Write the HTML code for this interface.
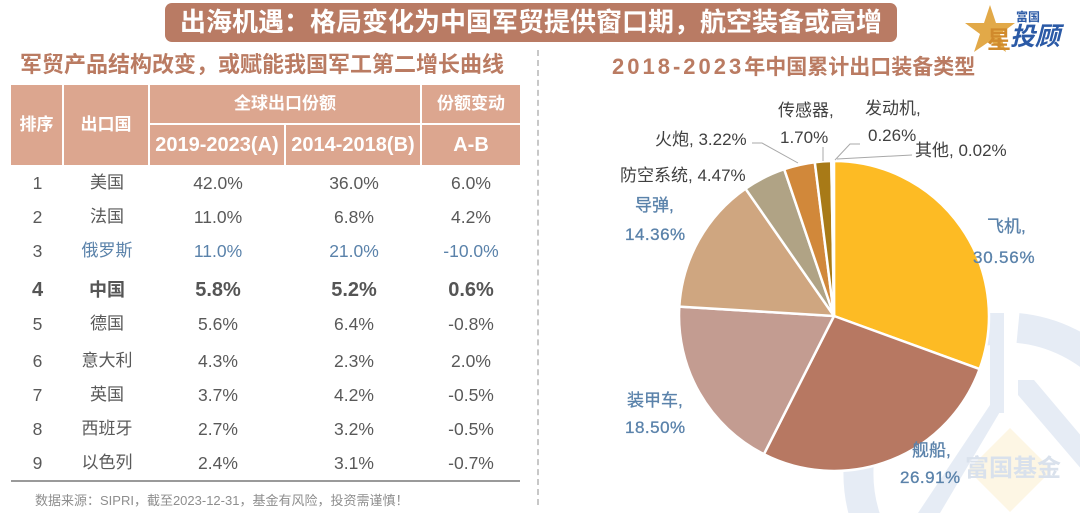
<!DOCTYPE html>
<html><head><meta charset="utf-8">
<style>
*{margin:0;padding:0;box-sizing:border-box}
body{width:1080px;height:513px;background:#fff;position:relative;overflow:hidden;font-family:"Liberation Sans","Noto Sans CJK SC",sans-serif;color:#595959}
.abs{position:absolute}
.banner{left:165px;top:3px;width:732px;height:39px;background:#B97B64;border-radius:7px;color:#fff;font-weight:bold;font-size:26px;line-height:39px;text-align:center;white-space:nowrap}
.sub{left:20px;top:51px;font-size:22px;font-weight:bold;color:#BA7B62;white-space:nowrap;line-height:28px}
.ptitle{left:612px;top:53px;font-size:21px;font-weight:bold;color:#BA7B62;white-space:nowrap;line-height:28px}
.ptitle .n{font-size:22px;letter-spacing:3px}
.hc{position:absolute;background:#DCA68F;color:#fff;font-weight:bold;text-align:center;white-space:nowrap}
.row{position:absolute;left:0;width:540px;height:26px;line-height:26px;font-size:17.5px}
.row span{position:absolute;top:0;text-align:center;white-space:nowrap}
.c1{left:11px;width:53px}
.c2{left:64px;width:86px;font-size:17px}
.c3{left:150px;width:136px}
.c4{left:286px;width:136px}
.c5{left:422px;width:98px}
.blue{color:#5A82AA}
.bold{font-weight:bold;font-size:20px;color:#555}
.bold .c2{font-size:18px}
</style></head><body>

<!-- watermark -->
<svg class="abs" style="left:0;top:0" width="1080" height="513">
  <g fill="none" stroke="#E6ECF5">
    <path d="M1018 328 A144 144 0 0 1 1148 480" stroke-width="30"/>
    <path d="M870 530 A144 144 0 0 1 990 330" stroke-width="30"/>
  </g>
  <rect x="990" y="313" width="14" height="100" fill="#E6ECF5"/>
  <path d="M990 405 L1004 405 L940 513 L918 513 Z" fill="#E6ECF5"/>
  <path d="M1018 380 L1034 380 L1110 470 L1095 485 L1018 395 Z" fill="#E6ECF5"/>
  <path d="M1010 428 L1052 470 L1010 512 L968 470 Z" fill="#FDF6E4"/>
  <text x="1013" y="476" text-anchor="middle" font-size="24" font-weight="bold" fill="#D9E1EC" font-family="Liberation Sans, Noto Sans CJK SC, sans-serif">富国基金</text>
</svg>

<div class="abs banner">出海机遇：格局变化为中国军贸提供窗口期，航空装备或高增</div>

<!-- logo -->
<svg class="abs" style="left:960px;top:0" width="120" height="56">
  <polygon points="30,5 36,23 55,23 40,34 46,52 30,41 14,52 20,34 5,23 24,23" fill="#E2A948"/>
  <text x="27" y="48" font-size="24" font-weight="bold" fill="#D08A2C" font-family="Liberation Sans, Noto Sans CJK SC, sans-serif">星</text>
  <text x="56" y="21" font-size="12" font-weight="bold" fill="#2B5AA6" font-family="Liberation Sans, Noto Sans CJK SC, sans-serif">富国</text>
  <text x="50" y="45" font-size="25" font-weight="bold" font-style="italic" fill="#2B5AA6" font-family="Liberation Sans, Noto Sans CJK SC, sans-serif">投顾</text>
</svg>

<div class="abs sub">军贸产品结构改变，或赋能我国军工第二增长曲线</div>
<div class="abs ptitle"><span class="n">2018-2023</span>年中国累计出口装备类型</div>

<!-- dashed separator -->
<div class="abs" style="left:537px;top:50px;width:0;height:455px;border-left:2px dashed #C8C8C8"></div>

<!-- table header -->
<div class="hc" style="left:11px;top:85px;width:51px;height:80px;line-height:80px;font-size:17px">排序</div>
<div class="hc" style="left:64px;top:85px;width:84px;height:80px;line-height:80px;font-size:17px">出口国</div>
<div class="hc" style="left:150px;top:85px;width:270px;height:38px;line-height:38px;font-size:17px">全球出口份额</div>
<div class="hc" style="left:422px;top:85px;width:98px;height:38px;line-height:38px;font-size:17px">份额变动</div>
<div class="hc" style="left:150px;top:125px;width:134px;height:40px;line-height:40px;font-size:20px">2019-2023(A)</div>
<div class="hc" style="left:286px;top:125px;width:134px;height:40px;line-height:40px;font-size:20px">2014-2018(B)</div>
<div class="hc" style="left:422px;top:125px;width:98px;height:40px;line-height:40px;font-size:20px">A-B</div>

<!-- rows -->
<div class="row" style="top:170px"><span class="c1">1</span><span class="c2">美国</span><span class="c3">42.0%</span><span class="c4">36.0%</span><span class="c5">6.0%</span></div>
<div class="row" style="top:204px"><span class="c1">2</span><span class="c2">法国</span><span class="c3">11.0%</span><span class="c4">6.8%</span><span class="c5">4.2%</span></div>
<div class="row blue" style="top:238px"><span class="c1" style="color:#595959">3</span><span class="c2">俄罗斯</span><span class="c3">11.0%</span><span class="c4">21.0%</span><span class="c5">-10.0%</span></div>
<div class="row bold" style="top:277px"><span class="c1">4</span><span class="c2">中国</span><span class="c3">5.8%</span><span class="c4">5.2%</span><span class="c5">0.6%</span></div>
<div class="row" style="top:311px"><span class="c1">5</span><span class="c2">德国</span><span class="c3">5.6%</span><span class="c4">6.4%</span><span class="c5">-0.8%</span></div>
<div class="row" style="top:348px"><span class="c1">6</span><span class="c2">意大利</span><span class="c3">4.3%</span><span class="c4">2.3%</span><span class="c5">2.0%</span></div>
<div class="row" style="top:382px"><span class="c1">7</span><span class="c2">英国</span><span class="c3">3.7%</span><span class="c4">4.2%</span><span class="c5">-0.5%</span></div>
<div class="row" style="top:416px"><span class="c1">8</span><span class="c2">西班牙</span><span class="c3">2.7%</span><span class="c4">3.2%</span><span class="c5">-0.5%</span></div>
<div class="row" style="top:450px"><span class="c1">9</span><span class="c2">以色列</span><span class="c3">2.4%</span><span class="c4">3.1%</span><span class="c5">-0.7%</span></div>

<div class="abs" style="left:11px;top:480px;width:509px;height:2px;background:#9A9A9A"></div>
<div class="abs" style="left:35px;top:492px;font-size:13px;color:#8E8E8E;white-space:nowrap;line-height:18px">数据来源：SIPRI，截至2023-12-31，基金有风险，投资需谨慎！</div>

<!-- pie -->
<svg class="abs" style="left:0;top:0" width="1080" height="513">
  <g stroke="#fff" stroke-width="2.5" stroke-linejoin="round">
    <path d="M834 316 L834 161 A155 155 0 0 1 979.6 369.1 Z" fill="#FDBB24"/>
    <path d="M834 316 L979.6 369.1 A155 155 0 0 1 763.9 454.2 Z" fill="#B77862"/>
    <path d="M834 316 L763.9 454.2 A155 155 0 0 1 679.3 306.6 Z" fill="#C39C91"/>
    <path d="M834 316 L679.3 306.6 A155 155 0 0 1 745.5 188.7 Z" fill="#CFA680"/>
    <path d="M834 316 L745.5 188.7 A155 155 0 0 1 784.2 169.2 Z" fill="#B0A385"/>
    <path d="M834 316 L784.2 169.2 A155 155 0 0 1 814.8 162.2 Z" fill="#D1883A"/>
    <path d="M834 316 L814.8 162.2 A155 155 0 0 1 831.3 161 Z" fill="#A87A17"/>
    <path d="M834 316 L831.3 161 A155 155 0 0 1 833.8 161 Z" fill="#E8D9B0"/>
  </g>
  <g fill="none" stroke="#A8A8A8" stroke-width="1">
    <polyline points="752,143 762,143 798,163"/>
    <polyline points="823,147 823,161"/>
    <polyline points="860,144 850,144 835,160"/>
    <polyline points="912,155 837,159"/>
  </g>
  <g font-family="Liberation Sans, Noto Sans CJK SC, sans-serif" font-size="17" fill="#404040">
    <text x="655" y="145">火炮, 3.22%</text>
    <text x="778" y="116">传感器,</text>
    <text x="780" y="143">1.70%</text>
    <text x="865" y="114">发动机,</text>
    <text x="868" y="141">0.26%</text>
    <text x="915" y="156">其他, 0.02%</text>
    <text x="620" y="181">防空系统, 4.47%</text>
  </g>
  <g font-family="Liberation Sans, Noto Sans CJK SC, sans-serif" font-size="17" fill="#5A82AA" stroke="#5A82AA" stroke-width="0.3">
    <text x="635" y="211">导弹,</text>
    <text x="625" y="240" letter-spacing="0.5">14.36%</text>
    <text x="987" y="232">飞机,</text>
    <text x="973" y="263" letter-spacing="0.8">30.56%</text>
    <text x="627" y="406">装甲车,</text>
    <text x="625" y="433" letter-spacing="0.5">18.50%</text>
    <text x="912" y="456">舰船,</text>
    <text x="900" y="483" letter-spacing="0.5">26.91%</text>
  </g>
</svg>
</body></html>
